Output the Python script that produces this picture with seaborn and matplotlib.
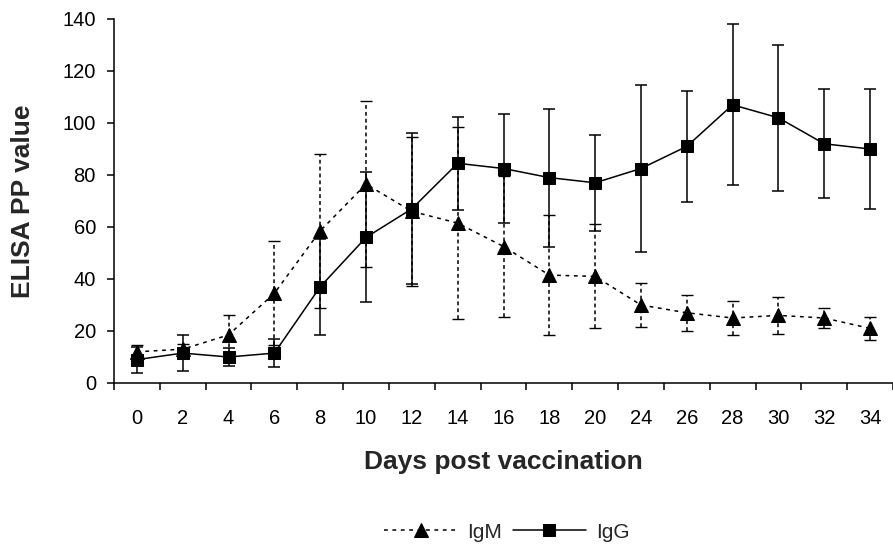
import numpy as np
import pandas as pd
import matplotlib
matplotlib.use("Agg")
import matplotlib.pyplot as plt
import seaborn as sns

# values
days = ['0', '2', '4', '6', '8', '10', '12', '14', '16', '18', '20',
        '24', '26', '28', '30', '32', '34']
igm = [12, 13, 18.5, 34.5, 58.5, 76.5, 66, 61.5, 52.5, 41.5, 41,
       30, 27, 25, 26, 25, 21]
igm_err = [2.5, 2, 7.5, 20, 29.5, 32, 28.5, 37, 27, 23, 20,
           8.5, 7, 6.5, 7, 4, 4.5]
igg = [9, 11.5, 10, 11.5, 37, 56, 67, 84.5, 82.5, 79, 77,
       82.5, 91, 107, 102, 92, 90]
igg_err = [5, 7, 3.5, 5.5, 18.5, 25, 29, 18, 21, 26.5, 18.5,
           32, 21.5, 31, 28, 21, 23]
y_ticks = [0, 20, 40, 60, 80, 100, 120, 140]

sns.set_style("ticks")
plt.rcParams['font.family'] = ['Liberation Sans', 'DejaVu Sans']

df = pd.DataFrame({'pos': np.arange(len(days)), 'day': days,
                   'IgM': igm, 'IgM_err': igm_err,
                   'IgG': igg, 'IgG_err': igg_err})

fig = plt.figure(figsize=(8.93, 5.46), dpi=100)
ax = fig.add_axes([114 / 893, 1 - 383 / 546, 779 / 893, 364 / 546])

# error bars first so markers sit on top
eb_m = ax.errorbar(df['pos'], df['IgM'], yerr=df['IgM_err'], fmt='none',
                   ecolor='black', elinewidth=1.1, capsize=4.5, capthick=1.0, zorder=2)
eb_m.lines[2][0].set_linestyle((0, (2.5, 2)))
ax.errorbar(df['pos'], df['IgG'], yerr=df['IgG_err'], fmt='none',
            ecolor='black', elinewidth=1.1, capsize=4.5, capthick=1.1, zorder=2)

sns.lineplot(data=df, x='pos', y='IgM', ax=ax, color='black', marker='^',
             markersize=10, markeredgecolor='black', linewidth=1.1,
             linestyle=(0, (2.5, 3)), label='IgM', zorder=3)
sns.lineplot(data=df, x='pos', y='IgG', ax=ax, color='black', marker='s',
             markersize=8, markeredgecolor='black', linewidth=1.1,
             label='IgG', zorder=3)

ax.set_xlim(-0.5, 16.29)
ax.set_ylim(0, 140)
ax.set_yticks(y_ticks)
ax.set_xticks(df['pos'])
ax.set_xticklabels(days)
ax.set_xticks(np.arange(len(days) + 1) - 0.5, minor=True)
ax.tick_params(axis='x', which='major', length=0, pad=18.5, labelsize=14.5, colors='black')
ax.tick_params(axis='x', which='minor', length=5, width=1.1, direction='out', color='black')
ax.tick_params(axis='y', length=5, width=1.1, direction='out', pad=8,
               labelsize=14.5, colors='black')

for side in ['top', 'right']:
    ax.spines[side].set_visible(False)
for side in ['left', 'bottom']:
    ax.spines[side].set_linewidth(1.1)
    ax.spines[side].set_color('black')

ax.set_xlabel('Days post vaccination', fontsize=19, fontweight='bold')
ax.set_ylabel('ELISA PP value', fontsize=19, fontweight='bold')
ax.xaxis.label.set_va('top')
ax.yaxis.label.set_va('center')
ax.xaxis.set_label_coords(0.5, -0.184)
ax.yaxis.set_label_coords(-0.117, 0.5)

ax.legend(ncol=2, loc='center', bbox_to_anchor=(507 / 893, 1 - 532 / 546),
          bbox_transform=fig.transFigure, frameon=False, fontsize=15,
          handlelength=3.5, handletextpad=0.5, columnspacing=0.5)

fig.savefig('out.png', dpi=100)
